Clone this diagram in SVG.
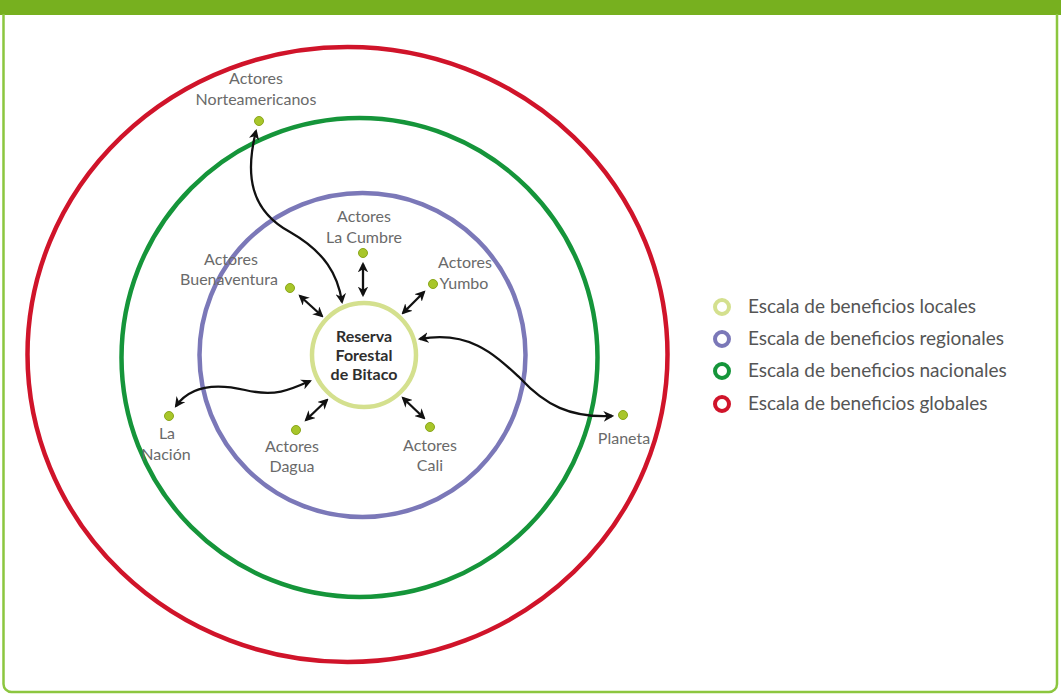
<svg xmlns="http://www.w3.org/2000/svg" width="1061" height="696" viewBox="0 0 1061 696">
<style>
.lbl{font-family:Lato,"Open Sans","Liberation Sans",sans-serif;font-size:16px;fill:#6a6a6a;text-anchor:middle}
.ctr{font-family:Lato,"Open Sans","Liberation Sans",sans-serif;font-size:16px;font-weight:bold;fill:#2e2e2e;text-anchor:middle}
.leg{font-family:Lato,"Open Sans","Liberation Sans",sans-serif;font-size:19px;fill:#555}
.dot{fill:#a8c62a;stroke:#8aa61a;stroke-width:1}
.con{fill:none;stroke:#111;stroke-width:2.3;marker-start:url(#ah);marker-end:url(#ah)}
</style>
<defs>
<marker id="ah" viewBox="0 0 10 10" refX="8" refY="5" markerWidth="4.6" markerHeight="4.6" orient="auto-start-reverse" markerUnits="strokeWidth">
<path d="M0,0 L10,5 L0,10 L3,5 Z" fill="#111"/>
</marker>
</defs>
<rect x="0" y="0" width="1061" height="696" fill="#fff"/>
<rect x="0" y="0" width="1061" height="15" fill="#77b01f"/>
<path d="M3.5,14 V684 a8,8 0 0 0 8,8 H1049 a8,8 0 0 0 8,-8 V14" fill="none" stroke="#8cc63f" stroke-width="2.5"/>

<g id="rings">
<ellipse cx="347.5" cy="354.5" rx="320" ry="307.5" fill="none" stroke="#d0142a" stroke-width="4.5"/>
<ellipse cx="359.5" cy="357.5" rx="238" ry="239.5" fill="none" stroke="#15953a" stroke-width="4.5"/>
<ellipse cx="362.5" cy="355" rx="163" ry="162" fill="none" stroke="#7b78b8" stroke-width="4.5"/>
</g>

<g id="connectors">
<path class="con" d="M363,264 L363,295"/>
<path class="con" d="M300,296 L322,316"/>
<path class="con" d="M424,292 L403,313"/>
<path class="con" d="M306,420 L327,400"/>
<path class="con" d="M403,398 L424,418"/>
<path class="con" d="M176,406 C190,386 215,383 245,390 C275,397 290,390 310,381"/>
<path class="con" d="M256,131 C245,175 250,210 290,232 C325,252 338,275 342,302"/>
<path class="con" d="M420,339 C470,330 495,355 520,378 C545,405 570,418 612,416"/>
</g>

<g id="reserva">
<circle cx="364" cy="355" r="52" fill="#fff" stroke="#d4e08e" stroke-width="4.5"/>
<text class="ctr" x="364" y="342">Reserva</text>
<text class="ctr" x="364" y="361">Forestal</text>
<text class="ctr" x="364" y="380">de Bitaco</text>
</g>

<g id="norteamericanos">
<circle class="dot" cx="259" cy="121" r="4.5"/>
<text class="lbl" x="256" y="84">Actores</text>
<text class="lbl" x="256" y="105">Norteamericanos</text>
</g>
<g id="lacumbre">
<circle class="dot" cx="363" cy="253" r="4.5"/>
<text class="lbl" x="364" y="222">Actores</text>
<text class="lbl" x="364" y="243">La Cumbre</text>
</g>
<g id="buenaventura">
<circle class="dot" cx="290" cy="288" r="4.5"/>
<text class="lbl" x="231" y="265">Actores</text>
<text class="lbl" x="229" y="285">Buenaventura</text>
</g>
<g id="yumbo">
<circle class="dot" cx="433" cy="284" r="4.5"/>
<text class="lbl" x="465" y="268">Actores</text>
<text class="lbl" x="464" y="289">Yumbo</text>
</g>
<g id="lanacion">
<circle class="dot" cx="169" cy="416" r="4.5"/>
<text class="lbl" x="167" y="439">La</text>
<text class="lbl" x="166" y="460">Nación</text>
</g>
<g id="dagua">
<circle class="dot" cx="296" cy="430" r="4.5"/>
<text class="lbl" x="292" y="452">Actores</text>
<text class="lbl" x="292" y="472">Dagua</text>
</g>
<g id="cali">
<circle class="dot" cx="430" cy="427" r="4.5"/>
<text class="lbl" x="430" y="451">Actores</text>
<text class="lbl" x="430" y="471">Cali</text>
</g>
<g id="planeta">
<circle class="dot" cx="623" cy="415" r="4.5"/>
<text class="lbl" x="624" y="444">Planeta</text>
</g>

<g id="legend">
<circle cx="722" cy="307" r="7" fill="none" stroke="#d4e08e" stroke-width="4"/>
<text class="leg" x="748" y="313">Escala de beneficios locales</text>
<circle cx="722" cy="339" r="7" fill="none" stroke="#7b78b8" stroke-width="4"/>
<text class="leg" x="748" y="345">Escala de beneficios regionales</text>
<circle cx="722" cy="371" r="7" fill="none" stroke="#15953a" stroke-width="4"/>
<text class="leg" x="748" y="377">Escala de beneficios nacionales</text>
<circle cx="722" cy="404" r="7" fill="none" stroke="#d0142a" stroke-width="4"/>
<text class="leg" x="748" y="410">Escala de beneficios globales</text>
</g>
</svg>
